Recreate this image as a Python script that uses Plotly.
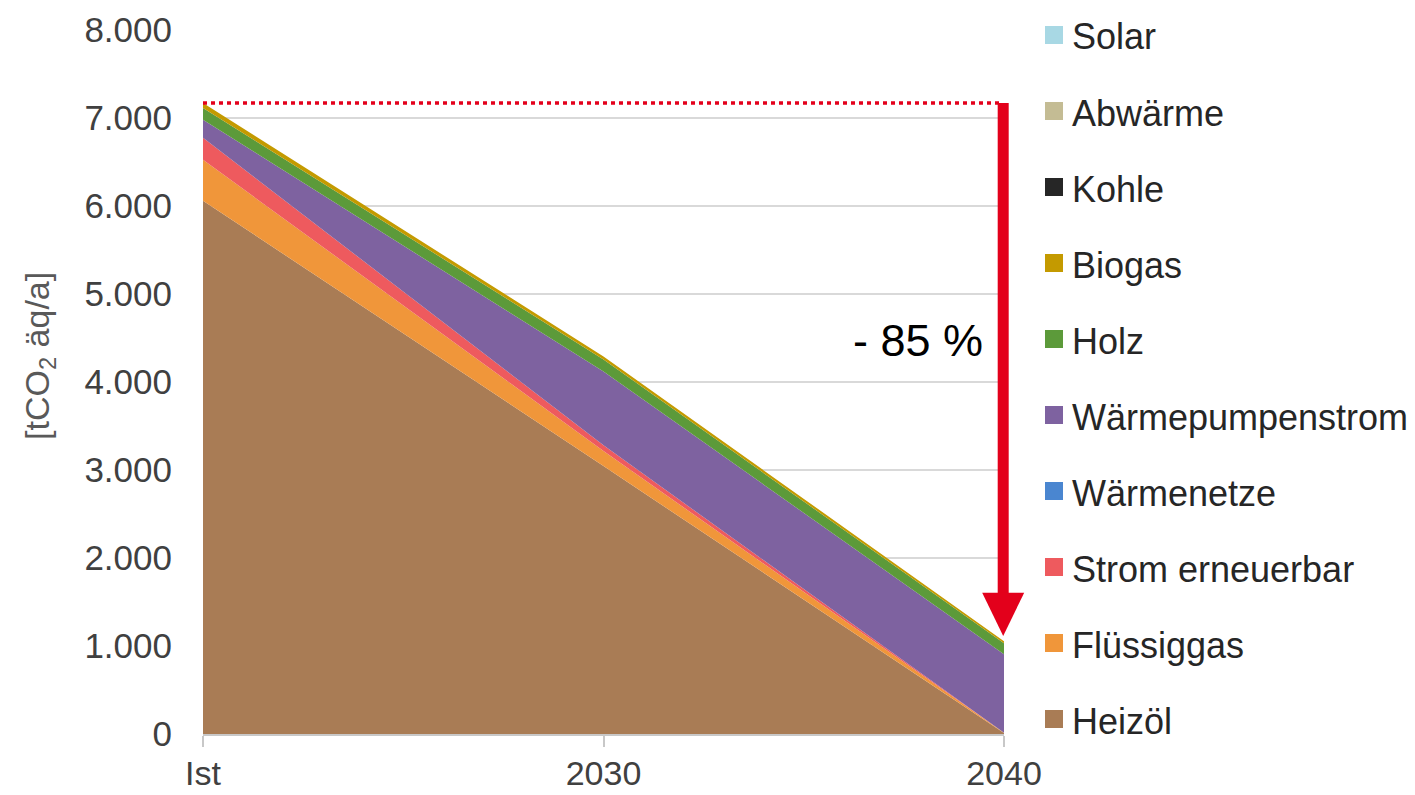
import plotly.graph_objects as go

# ---------------- data ----------------
categories = ["Ist", "2030", "2040"]

heizoel = [6060, 3045, 10]
fluessiggas = [465, 170, 5]
strom_erneuerbar = [250, 65, 0]
waermenetze = [0, 0, 0]
waermepumpenstrom = [205, 840, 890]
holz = [135, 135, 125]
biogas = [55, 35, 25]
kohle = [0, 0, 0]
abwaerme = [0, 0, 0]
solar = [0, 0, 0]

y_tick_vals = [0, 1000, 2000, 3000, 4000, 5000, 6000, 7000, 8000]

series_names = ["Heizöl", "Flüssiggas", "Strom erneuerbar", "Wärmenetze",
                "Wärmepumpenstrom", "Holz", "Biogas", "Kohle", "Abwärme", "Solar"]
series_values = [heizoel, fluessiggas, strom_erneuerbar, waermenetze,
                 waermepumpenstrom, holz, biogas, kohle, abwaerme, solar]
series_colors = ["#A97C55", "#F0963A", "#EE5A5E", "#4A86D0",
                 "#7E62A0", "#5C9A3A", "#C49A00", "#262626", "#C4BC94", "#A8D8E4"]

# ---------------- layout geometry ----------------
FONT = "Liberation Sans, Arial, sans-serif"
Y_MAX = 8000
W, H = 1415, 795
M_L, M_R, M_T, M_B = 203, 411, 30, 61
PW = W - M_L - M_R
PH = H - M_T - M_B


def px_x(px):
    return (px - M_L) / PW


def px_y(py):
    return (H - M_B - py) / PH


def yp(v):
    return v / Y_MAX


x_pos = list(range(len(categories)))

fig = go.Figure()

for name, vals, col in zip(series_names, series_values, series_colors):
    fig.add_trace(go.Scatter(
        x=x_pos, y=vals, name=name, mode="lines",
        stackgroup="one", fill="tonexty", fillcolor=col,
        line=dict(width=0, color=col), showlegend=False, hoverinfo="x+y+name",
    ))

totals = [sum(v[i] for v in series_values) for i in range(len(categories))]
total_start = totals[0]
total_end = totals[-1]
reduction = round((1 - total_end / total_start) * 100)

RED = "#E3001B"
# dotted reference line at start total
fig.add_shape(type="line", xref="paper", yref="paper",
              x0=0, x1=0.995, y0=yp(total_start), y1=yp(total_start),
              line=dict(color=RED, width=3.5, dash="4px,4px"))

# arrow shaft and head
tip = total_end + 60
head_base = tip + 490
AX = 0.999
fig.add_shape(type="line", xref="paper", yref="paper",
              x0=AX, x1=AX, y0=yp(total_start), y1=yp(head_base - 20),
              line=dict(color=RED, width=11))
hw = 21 / PW
fig.add_shape(type="path", xref="paper", yref="paper",
              path=f"M {AX - hw},{yp(head_base)} L {AX + hw},{yp(head_base)} L {AX},{yp(tip)} Z",
              fillcolor=RED, line=dict(width=0))

fig.add_annotation(xref="paper", yref="y", x=px_x(985), y=4470,
                   xanchor="right", yanchor="middle", showarrow=False,
                   text=f"- {reduction} %",
                   font=dict(family=FONT, size=45, color="#000000"))

fig.add_annotation(xref="paper", yref="paper", x=px_x(40), y=px_y(356),
                   xanchor="center", yanchor="middle", showarrow=False,
                   textangle=-90, text="[tCO<sub>2</sub> äq/a]",
                   font=dict(family=FONT, size=34, color="#595959"))

# ---------------- manual legend (top: Solar ... bottom: Heizöl) ----------------
LEG_TOP, LEG_STEP = 35, 76
SQ = 18
for i, (name, col) in enumerate(reversed(list(zip(series_names, series_colors)))):
    cy = LEG_TOP + i * LEG_STEP
    fig.add_shape(type="rect", xref="paper", yref="paper",
                  x0=px_x(1045), x1=px_x(1045 + SQ),
                  y0=px_y(cy + SQ / 2), y1=px_y(cy - SQ / 2),
                  fillcolor=col, line=dict(width=0))
    fig.add_annotation(xref="paper", yref="paper", x=px_x(1070), y=px_y(cy + 2),
                       xanchor="left", yanchor="middle", showarrow=False,
                       text=name, font=dict(family=FONT, size=36, color="#262626"))

fig.update_layout(
    width=W, height=H,
    margin=dict(l=M_L, r=M_R, t=M_T, b=M_B, pad=0, autoexpand=False),
    paper_bgcolor="white", plot_bgcolor="white",
    separators=",.",
    font=dict(family=FONT, size=35, color="#404040"),
    showlegend=False,
    xaxis=dict(
        range=[0, 2], tickmode="array", tickvals=x_pos, ticktext=categories,
        showgrid=False, zeroline=False, automargin=False,
        showline=True, linecolor="#C8C8C8", linewidth=1.5,
        ticks="outside", ticklen=11, tickcolor="#C8C8C8", tickwidth=1.5,
        ticklabelstandoff=-3,
        tickfont=dict(family=FONT, size=34, color="#404040"),
        fixedrange=True,
    ),
    yaxis=dict(
        range=[0, Y_MAX], tickmode="array", tickvals=y_tick_vals,
        tickformat=",d", separatethousands=True, automargin=False,
        showgrid=True, gridcolor="#D9D9D9", gridwidth=1.5,
        zeroline=False, showline=False, ticks="",
        ticklabelstandoff=30,
        tickfont=dict(family=FONT, size=35, color="#404040"),
        fixedrange=True,
    ),
)

fig.write_html("out.html")
